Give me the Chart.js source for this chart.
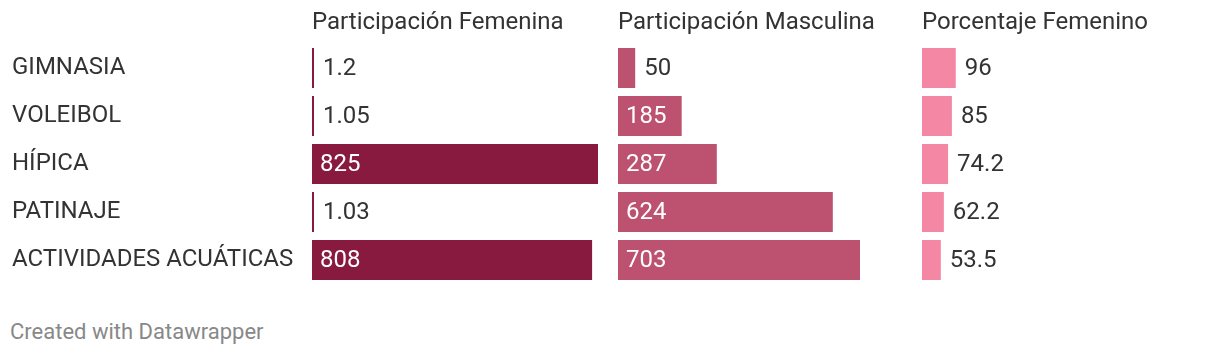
<!DOCTYPE html>
<html>
<head>
<meta charset="utf-8">
<script src="https://cdn.jsdelivr.net/npm/chart.js@4"></script>
<style>
  html, body { margin: 0; padding: 0; background: #fff; width: 1220px; height: 356px; overflow: hidden; }
  .col { position: absolute; top: 0; height: 284px; }
  #footer { position: absolute; left: 10px; top: 319px; font-family: Roboto, sans-serif; font-size: 22px; line-height: 26px; color: #888; }
</style>
</head>
<body>
<div class="col" style="left:0;width:600px"><canvas id="c1"></canvas></div>
<div class="col" style="left:618px;width:284px"><canvas id="c2"></canvas></div>
<div class="col" style="left:922px;width:290px"><canvas id="c3"></canvas></div>
<div id="footer">Created with Datawrapper</div>
<script>
// ---- data ----
const categories = ["GIMNASIA", "VOLEIBOL", "HÍPICA", "PATINAJE", "ACTIVIDADES ACUÁTICAS"];
const femenina = [1.2, 1.05, 825, 1.03, 808];
const masculina = [50, 185, 287, 624, 703];
const porcentaje = [96, 85, 74.2, 62.2, 53.5];
const headers = ["Participación Femenina", "Participación Masculina", "Porcentaje Femenino"];
const colors = ["#881a40", "#bc526f", "#f487a3"];

const sharedMax = Math.max(...femenina, ...masculina, ...porcentaje);
const FONT = "Roboto, 'Liberation Sans', sans-serif";

const valueLabels = {
  id: 'valueLabels',
  afterDatasetsDraw(chart) {
    const ctx = chart.ctx;
    ctx.save();
    ctx.font = "24px " + FONT;
    ctx.textBaseline = 'middle';
    ctx.textAlign = 'left';
    chart.data.datasets.forEach((ds, di) => {
      const meta = chart.getDatasetMeta(di);
      meta.data.forEach((bar, i) => {
        const p = bar.getProps(['x', 'base', 'y'], true);
        const txt = String(ds.data[i]);
        const tw = ctx.measureText(txt).width;
        const w = p.x - p.base;
        if (tw + 20 <= w) {
          ctx.fillStyle = '#ffffff';
          ctx.fillText(txt, p.base + 8, p.y + 1);
        } else {
          ctx.fillStyle = '#333333';
          ctx.fillText(txt, p.x + 9, p.y + 1);
        }
      });
    });
    ctx.restore();
  }
};

function makeChart(id, values, header, color, showLabels) {
  return new Chart(document.getElementById(id), {
    type: 'bar',
    data: {
      labels: categories,
      datasets: [{
        data: values,
        backgroundColor: color,
        borderWidth: 0,
        categoryPercentage: 1,
        barPercentage: 40 / 48,
        minBarLength: 2
      }]
    },
    options: {
      indexAxis: 'y',
      responsive: true,
      maintainAspectRatio: false,
      animation: false,
      events: [],
      layout: { padding: { left: showLabels ? 12 : 0, right: showLabels ? 2 : 0, top: 0, bottom: 0 } },
      plugins: { legend: { display: false }, tooltip: { enabled: false }, title: { display: false } },
      scales: {
        x: {
          position: 'top',
          min: 0,
          max: sharedMax,
          grid: { display: false },
          border: { display: false },
          ticks: { display: false },
          title: {
            display: true,
            text: header,
            align: 'start',
            color: '#333333',
            font: { family: FONT, size: 24, lineHeight: 1.2 },
            padding: { top: 9, bottom: 0 }
          },
          afterFit(scale) { scale.height = 44; scale.paddingLeft = 0; scale.paddingRight = 0; }
        },
        y: {
          display: showLabels,
          grid: { display: false },
          border: { display: false },
          ticks: {
            crossAlign: 'far',
            color: '#333333',
            font: { family: FONT, size: 24 },
            padding: 0
          },
          afterFit(scale) {
            if (showLabels) scale.width = 300;
            scale.paddingTop = 0;
            scale.paddingBottom = 0;
          }
        }
      }
    },
    plugins: [valueLabels]
  });
}

makeChart('c1', femenina, headers[0], colors[0], true);
makeChart('c2', masculina, headers[1], colors[1], false);
makeChart('c3', porcentaje, headers[2], colors[2], false);
</script>
</body>
</html>
